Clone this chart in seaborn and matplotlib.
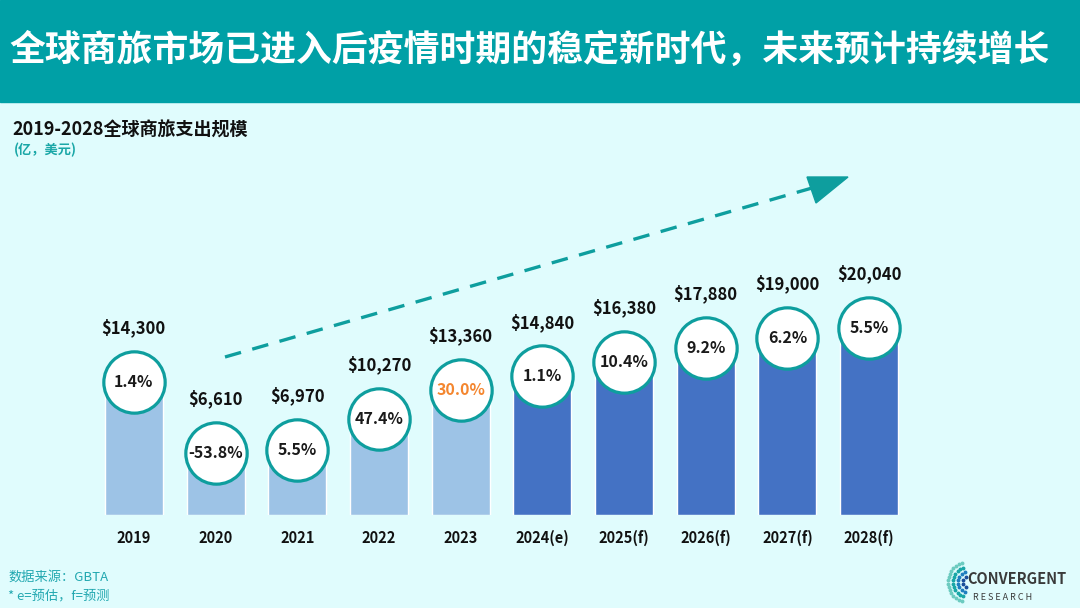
import numpy as np
import pandas as pd
import matplotlib
matplotlib.use('Agg')
import matplotlib.pyplot as plt
from matplotlib.patches import Rectangle, Polygon
from matplotlib.lines import Line2D
import seaborn as sns

# ── data ────────────────────────────────────────────────────────────────
years  = ['2019', '2020', '2021', '2022', '2023',
          '2024(e)', '2025(f)', '2026(f)', '2027(f)', '2028(f)']
spend  = [14300, 6610, 6970, 10270, 13360, 14840, 16380, 17880, 19000, 20040]
growth = [1.4, -53.8, 5.5, 47.4, 30.0, 1.1, 10.4, 9.2, 6.2, 5.5]
kind   = ['实际'] * 5 + ['预测'] * 5

title    = '全球商旅市场已进入后疫情时期的稳定新时代，未来预计持续增长'
subtitle = '2019-2028全球商旅支出规模'
unit     = '(亿，美元)'
source   = '数据来源：GBTA'
note     = '* e=预估，f=预测'

df = pd.DataFrame({'year': years, 'spend': spend, 'growth': growth, 'kind': kind})

# ── colours ─────────────────────────────────────────────────────────────
BG     = '#E0FCFD'
HEADER = '#00A0A6'
TEAL   = '#0E9E9E'
LIGHT  = '#9DC3E6'
DARK   = '#4472C4'
ORANGE = '#F4862F'

sns.set_theme(style='white')
plt.rcParams['font.family'] = ['Noto Sans CJK SC', 'DejaVu Sans']

W, H = 1080, 608
fig = plt.figure(figsize=(10.8, 6.08), dpi=100, facecolor=BG)

# header band
fig.patches.append(Rectangle((0, 1 - 102 / H), 1, 102 / H, transform=fig.transFigure,
                             color=HEADER, zorder=0))
fig.text(530 / W, 1 - 50 / H, title, color='white', fontsize=25.8, fontweight='bold',
         ha='center', va='center')

fig.text(12 / W, 1 - 130 / H, subtitle, fontsize=13, fontweight='bold',
         color='#111111', ha='left', va='center')
fig.text(14 / W, 1 - 150 / H, unit, fontsize=9.5, fontstyle='italic', fontweight='bold',
         color='#1AA7A7', ha='left', va='center')

# ── bars ────────────────────────────────────────────────────────────────
ax = fig.add_axes([93 / W, 1 - 515 / H, 817 / W, 280 / H])
ax.set_facecolor('none')
sns.barplot(data=df, x='year', y='spend', hue='kind', palette=[LIGHT, DARK],
            width=0.71, dodge=False, legend=False, ax=ax, saturation=1)
ax.set_ylim(0, 30000)
ax.set_xlim(-0.5, len(years) - 0.5)

# circles at the top of each bar
sns.scatterplot(data=df, x='year', y='spend', s=1950, color='white',
                edgecolor=TEAL, linewidth=2.3, ax=ax, zorder=5, legend=False)

for i, (v, g) in enumerate(zip(spend, growth)):
    ax.annotate(f'{g:.1f}%', (i, v), ha='center', va='center', fontsize=11.5,
                fontweight='semibold', color=ORANGE if years[i] == '2023' else '#1a1a1a',
                zorder=6)
    ax.annotate(f'${v:,}', (i, v), xytext=(0, 39), textcoords='offset points',
                ha='center', va='center', fontsize=12, fontweight='bold',
                color='#111111', zorder=6)

ax.set_xlabel('')
ax.set_ylabel('')
ax.set_yticks([])
ax.tick_params(axis='x', length=0, pad=11)
for lab in ax.get_xticklabels():
    lab.set_fontsize(10.5)
    lab.set_fontweight('bold')
    lab.set_color('#111111')
sns.despine(ax=ax, left=True, bottom=True)

# ── trend arrow ─────────────────────────────────────────────────────────
fig.lines.append(Line2D([225 / W, 812 / W], [1 - 357 / H, 1 - 188 / H],
                        transform=fig.transFigure, color=TEAL, linewidth=2.4,
                        linestyle=(0, (5, 3.5))))
fig.patches.append(Polygon([(807 / W, 1 - 177 / H), (848 / W, 1 - 177 / H),
                            (816 / W, 1 - 203 / H)], closed=True,
                           transform=fig.transFigure, color=TEAL))

# ── footer ──────────────────────────────────────────────────────────────
fig.text(8 / W, 1 - 577 / H, source, fontsize=9.5, color='#22A8B0', va='center')
fig.text(8 / W, 1 - 596 / H, note, fontsize=9.5, color='#22A8B0', va='center')

# logo
fig.text(967 / W, 1 - 579 / H, 'CONVERGENT', fontsize=10.5, fontweight='bold',
         color='#3a3a3a', va='center', ha='left')
fig.text(973 / W, 1 - 597 / H, 'R E S E A R C H', fontsize=6.5, color='#3a3a3a',
         va='center', ha='left')
cx, cy = 968, 582
for r, col in zip([5, 10, 15, 20], ['#1A4E9A', '#1F7FBF', '#1AA7A7', '#6CCBC0']):
    ang = np.linspace(np.pi * 0.6, np.pi * 1.4, max(4, int(r * 0.8)))
    fig.lines.append(Line2D((cx + r * np.cos(ang)) / W, 1 - (cy - r * np.sin(ang)) / H,
                            transform=fig.transFigure, linestyle='none', marker='o',
                            markersize=1.8, color=col))

fig.savefig('out.png', dpi=100, facecolor=BG)
